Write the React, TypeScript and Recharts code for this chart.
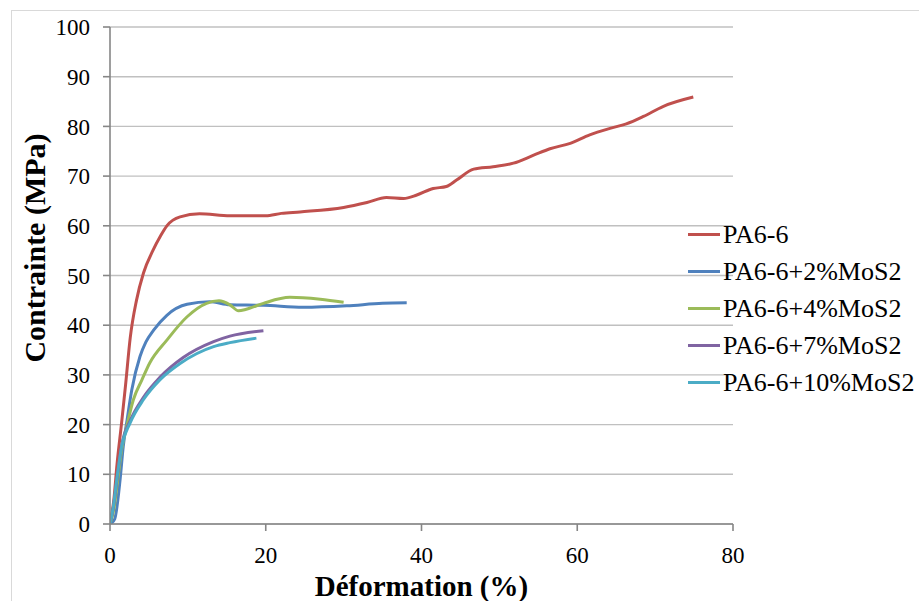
import React from 'react';
import { LineChart, Line, XAxis, YAxis, CartesianGrid, Legend } from 'recharts';

const seriesNames = ['PA6-6', 'PA6-6+2%MoS2', 'PA6-6+4%MoS2', 'PA6-6+7%MoS2', 'PA6-6+10%MoS2'];
const seriesColors = ['#C0504D', '#4F81BD', '#9BBB59', '#8064A2', '#4BACC6'];

const pa66X = [0, 0.5, 0.9, 1.5, 2, 2.6, 3.4, 4.3, 5.5, 6.5, 7.3, 9, 11.5, 15.4, 20, 22, 24.4, 30, 33, 35.5, 37.7, 39.4, 41.5, 43.2, 44.5, 46.7, 49.2, 51.8, 54.4, 56.5, 59.1, 61.6, 64.2, 66.3, 68.5, 71, 74.9];
const pa66Y = [0, 5, 12, 20.5, 28, 37.5, 45, 50.5, 55, 58, 60, 61.8, 62.4, 62, 62, 62.5, 62.8, 63.7, 64.7, 65.7, 65.5, 66.2, 67.5, 67.9, 69.2, 71.4, 71.9, 72.6, 74.2, 75.5, 76.6, 78.3, 79.6, 80.5, 82, 84, 85.9];

const mos2X = [0, 0.6, 1.3, 1.7, 2.2, 2.8, 3.85, 4.6, 5.6, 7.3, 9.9, 12.8, 15.4, 19.7, 24.8, 30.4, 35, 38.1];
const mos2Y = [0, 1, 9, 15.6, 21, 27, 33.7, 36.6, 39, 42, 44.2, 44.7, 44.1, 44, 43.6, 43.9, 44.4, 44.5];

const mos4X = [0, 0.5, 1, 1.5, 2.2, 3, 4.1, 5.1, 7.3, 9.9, 12.4, 14, 15.4, 16.5, 17.5, 19.7, 23.1, 27, 30];
const mos4Y = [0, 3, 9, 15, 20, 25, 29, 32.4, 37, 41.7, 44.4, 44.9, 44.1, 42.9, 43.2, 44.4, 45.6, 45.2, 44.6];

const mos7X = [0, 0.45, 0.9, 1.5, 2.6, 4.3, 6.4, 9.4, 13.3, 15.4, 19.7];
const mos7Y = [0, 3.5, 9, 15.8, 20.8, 25.5, 29.5, 33.5, 36.7, 37.8, 38.9];

const mos10X = [0, 0.43, 0.86, 1.5, 2.57, 4.28, 6.4, 9, 13.3, 15.4, 18.8];
const mos10Y = [0, 3.5, 8.85, 15.6, 20.3, 25, 29, 32.3, 35.7, 36.5, 37.4];

const xTicks = [0, 20, 40, 60, 80];
const yTicks = [0, 10, 20, 30, 40, 50, 60, 70, 80, 90, 100];

const toPoints = (xs: number[], ys: number[]) => xs.map((x, i) => ({ x, y: ys[i] }));

const allSeries = [
  toPoints(pa66X, pa66Y),
  toPoints(mos2X, mos2Y),
  toPoints(mos4X, mos4Y),
  toPoints(mos7X, mos7Y),
  toPoints(mos10X, mos10Y),
];

const FONT = '"Liberation Serif", "Times New Roman", serif';

const renderLegend = (props: any) => {
  const payload = [...(props.payload || [])].sort(
    (a: any, b: any) => seriesNames.indexOf(a.value) - seriesNames.indexOf(b.value)
  );
  return (
    <div style={{ fontFamily: FONT }}>
      {payload.map((entry: any, i: number) => (
        <div key={i} style={{ height: 37, display: 'flex', alignItems: 'center' }}>
          <div style={{ width: 32, height: 3, background: entry.color, marginRight: 3 }} />
          <span style={{ fontFamily: FONT, fontSize: 26, color: '#000', whiteSpace: 'nowrap', lineHeight: '37px' }}>{entry.value}</span>
        </div>
      ))}
    </div>
  );
};

export default function App() {
  return (
    <div style={{ position: 'absolute', left: 0, top: 0, width: 919, height: 601, overflow: 'hidden', background: '#fff' }}>
      <div style={{ position: 'absolute', left: 11, top: 10, width: 1000, height: 700, border: '1px solid #d9d9d9' }} />
      <div style={{ position: 'absolute', left: 0, top: 0 }}>
        <LineChart width={919} height={601} margin={{ top: 27, right: 186, bottom: 0, left: 0 }}>
          <CartesianGrid vertical={false} stroke="#c0c0c0" strokeWidth={1.4} />
          <XAxis
            type="number"
            dataKey="x"
            domain={[0, 80]}
            ticks={xTicks}
            interval={0}
            allowDataOverflow
            stroke="#868686"
            strokeWidth={1.6}
            tickSize={7}
            tickMargin={16}
            height={77}
            tick={{ fill: '#000', fontSize: 23, fontFamily: FONT }}
            label={{ value: 'Déformation (%)', position: 'insideBottom', offset: 5, style: { fontFamily: FONT, fontSize: 29, fontWeight: 'bold', fill: '#000' } }}
          />
          <YAxis
            type="number"
            domain={[0, 100]}
            ticks={yTicks}
            interval={0}
            allowDataOverflow
            width={110}
            stroke="#868686"
            strokeWidth={1.6}
            tickSize={7}
            tickMargin={13}
            tick={{ fill: '#000', fontSize: 23, fontFamily: FONT }}
            label={{
              content: () => (
                <text
                  x={34}
                  y={248}
                  transform="rotate(-90 34 248)"
                  textAnchor="middle"
                  dominantBaseline="central"
                  style={{ fontFamily: FONT, fontSize: 30, fontWeight: 'bold', fill: '#000' }}
                >
                  Contrainte (MPa)
                </text>
              ),
            }}
          />
          <Legend
            layout="vertical"
            align="center"
            verticalAlign="middle"
            content={renderLegend}
            wrapperStyle={{ position: 'absolute', left: 688, top: 216, width: 240, height: 190 }}
          />
          {allSeries.map((data, i) => (
            <Line
              key={seriesNames[i]}
              data={data}
              dataKey="y"
              name={seriesNames[i]}
              stroke={seriesColors[i]}
              strokeWidth={3}
              type="monotone"
              dot={false}
              activeDot={false}
              isAnimationActive={false}
            />
          ))}
        </LineChart>
      </div>
    </div>
  );
}
